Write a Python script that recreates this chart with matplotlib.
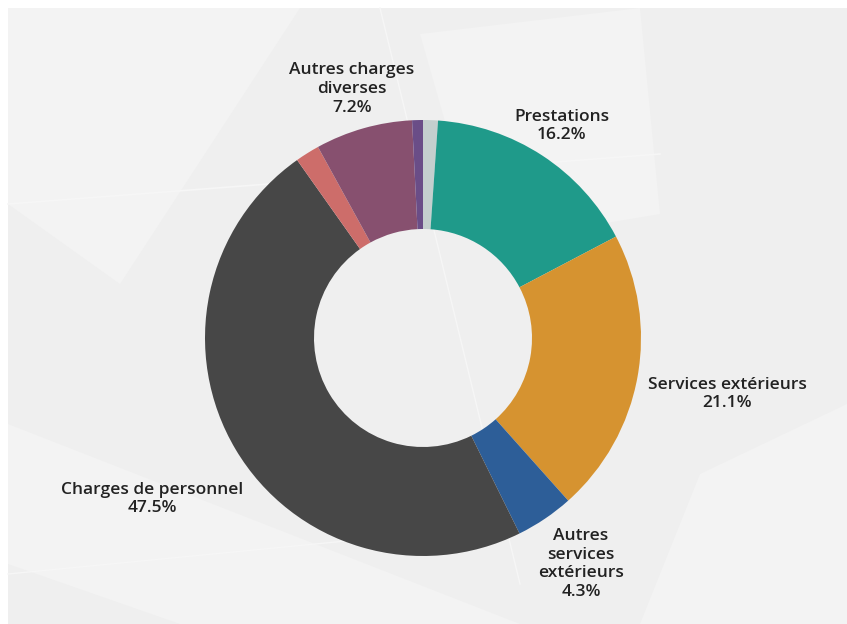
import matplotlib
matplotlib.use("Agg")
import matplotlib.pyplot as plt
from matplotlib.patches import Polygon, Rectangle

# ---- data ----
categories = ["", "Prestations", "Services extérieurs", "Autres services extérieurs",
              "Charges de personnel", "", "Autres charges diverses", ""]
values = [1.1, 16.2, 21.1, 4.3, 47.5, 1.8, 7.2, 0.8]
colors = ["#c4cfce", "#1f9a8a", "#d69330", "#2d5e98", "#474747", "#cd6d6a", "#87506f", "#6a4d87"]
label_texts = ["", "Prestations\n16.2%", "Services extérieurs\n21.1%",
               "Autres\nservices\nextérieurs\n4.3%", "Charges de personnel\n47.5%", "",
               "Autres charges\ndiverses\n7.2%", ""]

# ---- layout ----
W, H = 847, 624
label_pos = [None, (562, 498), (727, 230), (581, 60), (152, 125), None, (352, 535), None]

fig = plt.figure(figsize=(W / 100, H / 100), dpi=100)
fig.patch.set_facecolor("white")
ax = fig.add_axes([0, 0, 1, 1])

# background
ax.add_patch(Rectangle((8, 0), W - 8, H - 8, facecolor="#efefef", edgecolor="none", zorder=0))
bg_polys = [
    [(8, 616), (300, 616), (120, 340), (8, 420)],
    [(420, 590), (640, 616), (660, 410), (480, 380)],
    [(8, 60), (180, 0), (520, 0), (8, 200)],
    [(640, 0), (847, 0), (847, 220), (700, 150)],
]
for p in bg_polys:
    ax.add_patch(Polygon(p, closed=True, facecolor="#f3f3f3", edgecolor="none", zorder=0))
ax.plot([8, 660], [420, 470], color="#f6f6f6", lw=1.2, zorder=0)
ax.plot([380, 520], [616, 40], color="#f6f6f6", lw=1.0, zorder=0)
ax.plot([8, 520], [50, 100], color="#f6f6f6", lw=1.0, zorder=0)

cx, cy, R = 423, H - 338, 218
wedges, _ = ax.pie(values, colors=colors, startangle=90, counterclock=False,
                   center=(cx, cy), radius=R,
                   wedgeprops=dict(width=R * 0.5, edgecolor="none", linewidth=0))
for w in wedges:
    w.set_zorder(2)

for txt, pos in zip(label_texts, label_pos):
    if txt and pos:
        ax.text(pos[0], pos[1], txt, ha="center", va="center", fontsize=12.5,
                family="Open Sans", fontweight="semibold", color="#222222",
                linespacing=1.22, zorder=3)

ax.set_xlim(0, W)
ax.set_ylim(0, H)
ax.set_aspect("equal")
ax.axis("off")
fig.savefig("out.png", dpi=100)
